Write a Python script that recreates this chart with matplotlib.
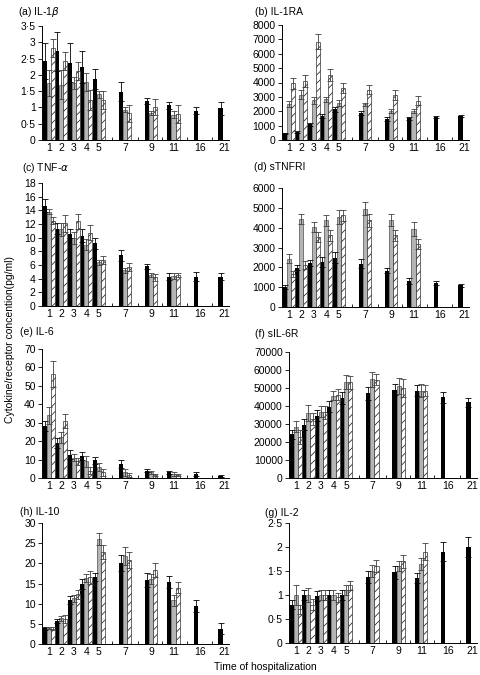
import numpy as np
import matplotlib
matplotlib.use("Agg")
import matplotlib.pyplot as plt
from matplotlib.ticker import FuncFormatter, FixedLocator

plt.rcParams['font.family'] = ['Liberation Sans', 'DejaVu Sans']
plt.rcParams['font.size'] = 7
plt.rcParams['hatch.linewidth'] = 0.6

nan = np.nan
days = ['1', '2', '3', '4', '5', '7', '9', '11', '16', '21']
xpos = np.array([0, 1, 2, 3, 4, 6.1, 8.2, 10, 12.1, 14.1])

# (a) IL-1beta
il1b_blk = [2.43, 2.73, 2.37, 2.25, 1.87, 1.48, 1.2, 1.07, 0.9, 0.97]
il1b_blk_err = [0.56, 0.6, 0.6, 0.49, 0.3, 0.29, 0.08, 0.11, 0.1, 0.2]
il1b_gry = [1.75, 1.7, 1.75, 1.79, 1.4, 0.93, 0.83, 0.78, nan, nan]
il1b_gry_err = [0.4, 0.45, 0.18, 0.28, 0.1, 0.07, 0.07, 0.1, nan, nan]
il1b_hat = [2.82, 2.42, 2.12, 1.23, 1.23, 0.82, 1.02, 0.8, nan, nan]
il1b_hat_err = [0.27, 0.27, 0.28, 0.31, 0.27, 0.26, 0.25, 0.27, nan, nan]

# (b) IL-1RA
il1ra_blk = [460, 530, 1090, 1670, 2130, 1900, 1460, 1500, 1580, 1690]
il1ra_blk_err = [60, 70, 100, 120, 150, 150, 120, 120, 80, 80]
il1ra_gry = [2500, 3150, 2750, 2830, 2600, 2480, 2000, 2000, nan, nan]
il1ra_gry_err = [200, 300, 220, 180, 200, 120, 150, 150, nan, nan]
il1ra_hat = [3940, 4100, 6850, 4520, 3600, 3500, 3130, 2740, nan, nan]
il1ra_hat_err = [360, 400, 500, 430, 350, 300, 320, 310, nan, nan]

# (c) TNF-alpha
tnf_blk = [14.7, 11.3, 10.6, 10.3, 9.2, 7.4, 5.8, 4.3, 4.3, 4.3]
tnf_blk_err = [1.0, 0.8, 0.7, 0.9, 0.8, 0.8, 0.4, 0.5, 0.7, 0.5]
tnf_gry = [13.8, 11.2, 10.0, 9.0, 6.4, 5.2, 4.5, 4.4, nan, nan]
tnf_gry_err = [0.4, 1.0, 0.9, 0.8, 0.4, 0.4, 0.3, 0.4, nan, nan]
tnf_hat = [12.5, 12.1, 12.4, 10.7, 6.7, 5.7, 4.2, 4.5, nan, nan]
tnf_hat_err = [0.5, 1.2, 1.1, 1.1, 0.6, 0.6, 0.5, 0.3, nan, nan]

# (d) sTNFRI
tnfr_blk = [1000, 1980, 2200, 2270, 2490, 2180, 1820, 1310, 1210, 1090]
tnfr_blk_err = [100, 120, 150, 230, 260, 220, 130, 140, 90, 90]
tnfr_gry = [2430, 4450, 4030, 4370, 4540, 4960, 4400, 3950, nan, nan]
tnfr_gry_err = [220, 250, 270, 280, 360, 340, 300, 350, nan, nan]
tnfr_hat = [1650, 2100, 3530, 3610, 4620, 4370, 3610, 3190, nan, nan]
tnfr_hat_err = [150, 200, 270, 290, 280, 330, 290, 260, nan, nan]

# (e) IL-6
il6_blk = [28.2, 19.0, 12.7, 11.8, 9.6, 7.8, 4.0, 3.0, 2.0, 1.0]
il6_blk_err = [2.8, 2.5, 2.3, 2.2, 1.9, 2.2, 1.0, 1.0, 1.0, 0.5]
il6_gry = [34, 22, 11, 9, 6, 3, 3, 2, nan, nan]
il6_gry_err = [4.5, 3, 2, 3, 2, 2, 1, 1, nan, nan]
il6_hat = [56.5, 31, 9, 4, 3, 1.5, 1.5, 1.5, nan, nan]
il6_hat_err = [7, 4, 2, 2, 2, 1, 0.5, 0.5, nan, nan]

# (f) sIL-6R
il6r_blk = [24200, 29700, 34700, 39700, 44500, 47000, 49100, 48500, 44800, 42100]
il6r_blk_err = [2300, 3200, 2900, 3300, 3500, 3500, 3000, 3000, 3000, 2500]
il6r_gry = [28600, 36000, 36900, 45800, 53500, 54800, 51300, 48500, nan, nan]
il6r_gry_err = [2900, 4500, 3200, 2300, 4000, 4000, 4500, 3500, nan, nan]
il6r_hat = [22700, 32800, 36500, 46300, 53100, 54600, 50000, 48500, nan, nan]
il6r_hat_err = [3800, 3200, 3500, 3100, 3400, 3200, 5000, 3000, nan, nan]

# (h) IL-10
il10_blk = [3.9, 5.8, 10.9, 14.8, 16.5, 20.1, 15.8, 15.3, 9.4, 3.8]
il10_blk_err = [0.4, 0.5, 1.1, 1.2, 1.0, 1.9, 1.7, 1.5, 1.5, 1.4]
il10_gry = [4.0, 6.4, 11.3, 16.3, 26.0, 21.8, 16.1, 10.8, nan, nan]
il10_gry_err = [0.3, 0.6, 0.9, 1.0, 1.5, 2.2, 1.2, 1.3, nan, nan]
il10_hat = [3.8, 6.2, 12.3, 16.5, 22.8, 20.8, 18.3, 14.0, nan, nan]
il10_hat_err = [0.3, 1.0, 1.1, 1.5, 1.7, 1.9, 1.7, 1.3, nan, nan]

# (g) IL-2
il2_blk = [0.8, 1.0, 0.98, 1.0, 1.0, 1.38, 1.47, 1.35, 1.9, 2.0]
il2_blk_err = [0.1, 0.1, 0.1, 0.1, 0.1, 0.12, 0.13, 0.1, 0.2, 0.2]
il2_gry = [1.0, 1.0, 1.0, 1.0, 1.1, 1.5, 1.6, 1.65, nan, nan]
il2_gry_err = [0.2, 0.15, 0.1, 0.1, 0.1, 0.12, 0.1, 0.13, nan, nan]
il2_hat = [0.7, 0.8, 1.0, 0.95, 1.2, 1.6, 1.7, 1.9, nan, nan]
il2_hat_err = [0.1, 0.12, 0.1, 0.1, 0.1, 0.12, 0.13, 0.18, nan, nan]

W, H = 480, 675
fig = plt.figure(figsize=(W / 100, H / 100), dpi=100)


def add_axes(left, right, top, bottom):
    return fig.add_axes([left / W, 1 - bottom / H, (right - left) / W, (bottom - top) / H])


def dot_fmt(v, _):
    return ('%g' % v).replace('.', '\u00b7')


def panel(box, title, tpos, blk, blk_e, gry, gry_e, hat, hat_e, ymax, ystep):
    ax = add_axes(*box)
    w = 0.33
    ekw = dict(ecolor='black', elinewidth=0.6, capsize=2, capthick=0.6)
    ax.bar(xpos - w, blk, w, yerr=blk_e, color='black', error_kw=ekw, zorder=2)
    ax.bar(xpos, gry, w, yerr=gry_e, color='#b4b4b4', edgecolor='#505050',
           linewidth=0.5, error_kw=dict(ekw, ecolor='#404040'), zorder=2)
    ax.bar(xpos + w, hat, w, yerr=hat_e, color='white', edgecolor='#303030',
           linewidth=0.5, hatch='////', error_kw=dict(ekw, ecolor='#404040'), zorder=2)
    ax.set_xlim(-0.55, 14.45)
    ax.set_ylim(0, ymax)
    ax.set_yticks(np.arange(0, ymax + ystep / 2, ystep))
    ax.yaxis.set_major_formatter(FuncFormatter(dot_fmt))
    ax.set_xticks(xpos)
    ax.set_xticklabels(days)
    mids = list((xpos[:-1] + xpos[1:]) / 2)
    ax.xaxis.set_minor_locator(FixedLocator(mids))
    ax.tick_params(axis='x', which='major', length=0, pad=2, labelsize=7.5)
    ax.tick_params(axis='x', which='minor', length=2, direction='in', width=0.6)
    ax.tick_params(axis='y', length=3, width=0.6, pad=1.5, labelsize=7.5)
    for s in ['top', 'right']:
        ax.spines[s].set_visible(False)
    for s in ['left', 'bottom']:
        ax.spines[s].set_linewidth(0.7)
    fig.text(tpos[0] / W, 1 - tpos[1] / H, title, fontsize=7.5, va='center', ha='left')
    return ax


panel((42, 229, 26, 140), '(a) IL-1$\\beta$', (18, 12),
      il1b_blk, il1b_blk_err, il1b_gry, il1b_gry_err, il1b_hat, il1b_hat_err, 3.5, 0.5)
panel((282, 469, 25, 140), '(b) IL-1RA', (255, 12),
      il1ra_blk, il1ra_blk_err, il1ra_gry, il1ra_gry_err, il1ra_hat, il1ra_hat_err, 8000, 1000)
panel((42, 229, 183, 306), '(c) TNF-$\\alpha$', (22, 168),
      tnf_blk, tnf_blk_err, tnf_gry, tnf_gry_err, tnf_hat, tnf_hat_err, 18, 2)
panel((282, 469, 188, 307), '(d) sTNFRI', (254, 167),
      tnfr_blk, tnfr_blk_err, tnfr_gry, tnfr_gry_err, tnfr_hat, tnfr_hat_err, 6000, 1000)
panel((42, 229, 349, 478), '(e) IL-6', (20, 332),
      il6_blk, il6_blk_err, il6_gry, il6_gry_err, il6_hat, il6_hat_err, 70, 10)
panel((289, 477, 352, 478), '(f) sIL-6R', (255, 334),
      il6r_blk, il6r_blk_err, il6r_gry, il6r_gry_err, il6r_hat, il6r_hat_err, 70000, 10000)
panel((42, 229, 523, 644), '(h) IL-10', (20, 512),
      il10_blk, il10_blk_err, il10_gry, il10_gry_err, il10_hat, il10_hat_err, 30, 5)
panel((289, 477, 523, 643), '(g) IL-2', (265, 513),
      il2_blk, il2_blk_err, il2_gry, il2_gry_err, il2_hat, il2_hat_err, 2.5, 0.5)

fig.text(10 / W, 1 - 340 / H, 'Cytokine/receptor concention(pg/ml)', rotation=90,
         va='center', ha='center', fontsize=7.5)
fig.text(265 / W, 1 - 667 / H, 'Time of hospitalization', va='center', ha='center', fontsize=7.5)

fig.savefig('out.png', dpi=100)
